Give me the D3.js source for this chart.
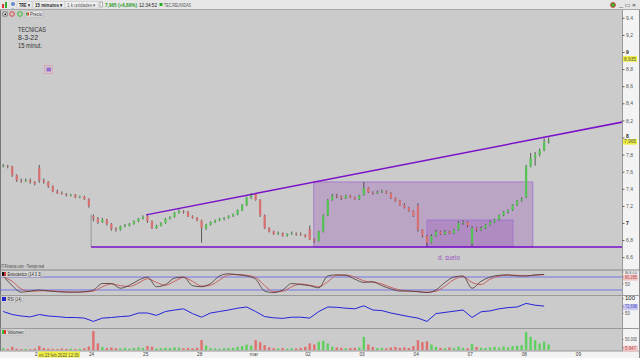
<!DOCTYPE html>
<html><head><meta charset="utf-8">
<script src="https://cdn.jsdelivr.net/npm/d3@7"></script>
<style>body{margin:0;background:#fff;overflow:hidden}svg{display:block;font-family:"Liberation Sans",Arial,sans-serif}</style>
</head><body><svg id="c" width="640" height="358"></svg>
<script>
// ---- DATA (15-min candles, index k: 0 = first bar of 23 feb; 12 bars per session drawn) ----
const firstK = -8;
const opens = [7.66,7.67,7.66,7.56,7.50,7.49,7.50,7.48,
 7.64,7.50,7.48,7.43,7.37,7.35,7.34,7.32,7.33,7.30,7.31,7.28,
 7.08,7.05,7.01,7.04,6.99,6.93,6.92,6.96,6.97,6.99,7.02,7.05,
 7.08,7.02,6.94,6.97,7.00,7.05,7.07,7.12,7.14,7.13,7.08,7.06,
 7.03,6.94,6.98,7.01,7.03,7.05,7.06,7.08,7.10,7.15,7.21,7.30,
 7.34,7.27,7.09,6.94,6.90,6.87,6.88,6.85,6.87,6.88,6.87,6.86,
 6.93,6.81,6.79,6.90,7.09,7.27,7.32,7.31,7.29,7.32,7.30,7.28,
 7.33,7.41,7.36,7.35,7.36,7.37,7.35,7.29,7.26,7.21,7.18,7.14,
 7.20,6.92,6.85,6.77,6.85,6.90,6.87,6.90,6.88,6.92,7.00,7.01,
 6.76,6.94,6.92,6.94,6.98,7.01,7.04,7.09,7.13,7.15,7.21,7.26,
 7.30,7.66,7.76,7.80,7.85,7.95];
const highs = [7.69,7.68,7.67,7.57,7.52,7.52,7.52,7.49,
 7.68,7.52,7.49,7.44,7.39,7.37,7.35,7.34,7.34,7.32,7.32,7.29,
 7.10,7.07,7.06,7.05,7.00,6.95,6.97,6.99,7.00,7.03,7.06,7.09,
 7.10,7.03,6.98,7.01,7.06,7.08,7.13,7.16,7.15,7.14,7.09,7.07,
 7.04,6.99,7.02,7.04,7.06,7.07,7.09,7.11,7.16,7.22,7.31,7.35,
 7.35,7.28,7.10,6.95,6.91,6.90,6.89,6.88,6.90,6.89,6.89,6.87,
 6.97,6.82,6.91,7.10,7.28,7.34,7.34,7.32,7.33,7.33,7.31,7.33,
 7.48,7.42,7.37,7.38,7.39,7.38,7.36,7.30,7.27,7.23,7.19,7.15,
 7.23,6.93,6.86,6.87,6.92,6.91,6.92,6.91,6.93,7.02,7.03,7.02,
 6.96,6.95,6.96,6.99,7.03,7.05,7.10,7.14,7.16,7.22,7.27,7.30,
 7.68,7.82,7.83,7.87,7.99,8.00];
const lows = [7.65,7.64,7.54,7.48,7.47,7.48,7.46,7.44,
 7.47,7.46,7.41,7.36,7.34,7.33,7.31,7.31,7.29,7.29,7.27,7.18,
 7.02,6.99,7.00,6.97,6.91,6.90,6.91,6.95,6.96,6.98,7.01,7.04,
 7.00,6.93,6.93,6.96,6.99,7.04,7.06,7.11,7.11,7.07,7.05,7.02,
 6.77,6.92,6.97,7.00,7.02,7.03,7.05,7.07,7.09,7.14,7.20,7.28,
 7.26,7.07,6.93,6.89,6.86,6.86,6.84,6.84,6.86,6.85,6.85,6.83,
 6.80,6.77,6.78,6.89,7.08,7.26,7.29,7.27,7.28,7.29,7.27,7.27,
 7.32,7.35,7.33,7.34,7.35,7.34,7.28,7.25,7.20,7.17,7.13,7.07,
 6.90,6.83,6.72,6.76,6.84,6.86,6.86,6.87,6.87,6.91,6.98,6.95,
 6.72,6.90,6.91,6.93,6.97,7.00,7.03,7.08,7.11,7.14,7.20,7.25,
 7.29,7.65,7.67,7.78,7.84,7.93];
const closes = [7.67,7.66,7.56,7.50,7.49,7.50,7.48,7.46,
 7.50,7.48,7.43,7.37,7.35,7.34,7.33,7.33,7.30,7.31,7.28,7.20,
 7.05,7.01,7.04,6.99,6.93,6.92,6.96,6.97,6.99,7.02,7.05,7.07,
 7.02,6.94,6.97,7.00,7.05,7.07,7.12,7.14,7.13,7.08,7.06,7.03,
 6.94,6.98,7.01,7.03,7.05,7.06,7.08,7.10,7.15,7.21,7.30,7.34,
 7.27,7.09,6.94,6.90,6.87,6.88,6.85,6.87,6.88,6.87,6.86,6.84,
 6.81,6.79,6.90,7.09,7.27,7.32,7.31,7.29,7.32,7.30,7.28,7.32,
 7.41,7.36,7.35,7.36,7.37,7.35,7.29,7.26,7.21,7.18,7.14,7.08,
 6.92,6.85,6.77,6.85,6.90,6.87,6.90,6.88,6.92,7.00,7.01,6.97,
 6.94,6.92,6.94,6.98,7.01,7.04,7.09,7.13,7.15,7.21,7.26,7.28,
 7.66,7.76,7.80,7.85,7.95,7.965];
const volumesK = [8,5,14,6,4,5,3,6,
 18,9,6,5,4,7,5,6,4,5,8,16,
 86,30,14,9,12,8,7,10,6,9,12,10,
 18,15,7,8,10,9,12,11,8,9,7,10,
 45,20,8,7,6,8,9,10,14,18,25,20,
 45,35,22,12,8,7,9,6,8,7,10,14,
 30,25,38,42,30,15,12,10,8,9,10,12,
 60,25,14,9,10,8,12,14,10,12,9,18,
 45,36,40,25,14,10,8,12,9,15,10,8,
 28,14,10,9,12,14,11,16,12,18,20,22,
 82,60,45,30,38,25];
// indicators sampled every 2 bars starting at k = -8
const indStep = 2;
const stochK = [85,40,10,15,20,15,12,10,10,12, 20,50,50,28,42,65,80,35,45,75,
 80,40,35,50,85,95,90,85,70,15, 8,20,50,45,40,30,85,90,88,70,
 55,58,40,25,15,15,12,8,20,55, 80,85,28,60,80,88,90,85,85,90, 92];
const stochD = [80,60,25,14,16,17,14,11,10,11, 15,35,48,40,36,52,72,55,42,60,
 78,60,38,42,66,90,92,88,78,40, 12,14,35,48,42,35,58,88,89,80,
 62,56,48,32,20,15,13,10,14,38, 68,82,55,45,70,84,89,88,85,88, 91];
const rsi = [55,45,40,37,45,40,38,35,35,33, 22,33,35,38,40,50,50,42,55,60,
 64,48,36,50,55,60,66,70,55,38, 34,32,36,36,33,55,70,69,66,64,
 74,60,58,50,44,38,33,22,48,52, 56,60,35,54,57,64,68,70,82,76, 73];
const dayLabels = ["23","24","25","28","mar","02","03","04","07","08","09"];
const dayStartK = [0,12,24,36,48,60,72,84,96,108,120];
const priceTicks = [6.6,6.8,7,7.2,7.4,7.6,7.8,8,8.2,8.4,8.6,8.8,9,9.2,9.4];
const trendUpper = [{k:24.2,p:7.095},{k:129.8,p:8.18}];
const trendLower = [{k:12,p:6.72},{k:129.8,p:6.72}];
const gapLine = [{k:12,p:7.10},{k:12,p:6.72}];
const boxes = [{k0:61.4,k1:110,p0:6.72,p1:7.48},{k0:86.5,k1:105.6,p0:6.72,p1:7.035}];
const lastPrice = 7.965, markPrice = 8.935;

// ---- SCALES ----
const svg = d3.select("#c");
const PW = 622;
const x = d3.scaleLinear().domain([-8.21,129.77]).range([0,PW]);
const y = d3.scaleLinear().domain([6.6,9.4]).range([257.2,17.8]);
const yS = d3.scaleLinear().domain([0,100]).range([294.3,272.7]);
const yR = d3.scaleLinear().domain([0,100]).range([328,298]);
const yV = d3.scaleLinear().domain([0,50]).range([350,339]);
const comma = v => String(v).replace(".",",");

// backgrounds
svg.append("rect").attr("width",640).attr("height",358).attr("fill","#cbcbcb");
svg.append("rect").attr("x",PW).attr("y",10).attr("width",18).attr("height",348).attr("fill","#f3f3f3");
svg.append("rect").attr("x",0).attr("y",351).attr("width",640).attr("height",7).attr("fill","#f3f3f3");
svg.append("line").attr("x1",PW+0.5).attr("x2",PW+0.5).attr("y1",10).attr("y2",351).attr("stroke","#999");
svg.append("line").attr("x1",0.5).attr("x2",0.5).attr("y1",10).attr("y2",351).attr("stroke","#777");
svg.append("line").attr("x1",639.5).attr("x2",639.5).attr("y1",0).attr("y2",358).attr("stroke","#888");
[[270,"#888"],[295.5,"#999"],[328.5,"#999"],[351,"#999"]].forEach(([yy,c])=>{
  svg.append("line").attr("x1",0).attr("x2",640).attr("y1",yy).attr("y2",yy).attr("stroke",c).attr("stroke-width",1);
});

// toolbar
const tb = svg.append("g");
tb.append("rect").attr("width",640).attr("height",9.5).attr("fill","#e6e6e6");
tb.append("line").attr("x1",0).attr("x2",640).attr("y1",9.5).attr("y2",9.5).attr("stroke","#a8a8a8");
tb.append("rect").attr("x",2).attr("y",4).attr("width",2).attr("height",4).attr("fill","#d33");
tb.append("rect").attr("x",5).attr("y",2).attr("width",2).attr("height",6).attr("fill","#3a3");
tb.append("circle").attr("cx",13).attr("cy",4).attr("r",2).attr("fill","#68c");
tb.append("text").attr("x",11).attr("y",9).attr("font-size",4).attr("fill","#36a").text("⌄");
const tt = (xx,yy,s,txt,opt={})=>{const t=tb.append("text").attr("x",xx).attr("y",yy).attr("font-size",s).attr("fill",opt.fill||"#222").attr("font-weight",opt.w||"normal").text(txt); if(opt.len) t.attr("textLength",opt.len).attr("lengthAdjust","spacingAndGlyphs"); return t;};
[[17,15],[33,32],[65,33]].forEach(([a,w])=>tb.append("rect").attr("x",a).attr("y",1.5).attr("width",w).attr("height",6.5).attr("fill","#efefef").attr("stroke","#bbb").attr("stroke-width",0.5));
tt(19,6.6,5,"TRE  ▾",{w:"bold",len:11});
tt(35,6.6,5,"15 minutos  ▾",{w:"bold",len:28});
tt(67,6.6,5,"1 k unidades  ▾",{fill:"#555",len:29});
tb.append("rect").attr("x",100).attr("y",2).attr("width",2.5).attr("height",5).attr("fill","#fff").attr("stroke","#666").attr("stroke-width",0.5);
tt(105,6.6,5,"7,965 (+6,89%)",{fill:"#2a9a2a",w:"bold",len:32});
tt(139,6.6,5,"12:34:52",{len:18});
tb.append("rect").attr("x",159.5).attr("y",3).attr("width",3).attr("height",3).attr("fill","#2a2");
tt(164,6.6,4.6,"TEC.REUNIDAS",{fill:"#555",len:27});
tb.append("circle").attr("cx",613).attr("cy",5).attr("r",2.4).attr("fill","#3b3").attr("stroke","#d33").attr("stroke-width",1);
tt(619,7,5,"_ □ ×",{fill:"#444",len:17});
tb.append("rect").attr("x",3).attr("y",12).attr("width",4).attr("height",4).attr("fill","#fff").attr("stroke","#333").attr("stroke-width",0.6);
tb.append("rect").attr("x",4.5).attr("y",13.5).attr("width",1.5).attr("height",1.5).attr("fill","#000");
tb.append("circle").attr("cx",12).attr("cy",14).attr("r",2.3).attr("fill","none").attr("stroke","#d44").attr("stroke-width",1);
tb.append("circle").attr("cx",20).attr("cy",14).attr("r",2.3).attr("fill","none").attr("stroke","#3b3").attr("stroke-width",1);
tb.append("rect").attr("x",25).attr("y",11).attr("width",18).attr("height",6).attr("fill","#e8e8e8").attr("stroke","#aaa").attr("stroke-width",0.5);
tb.append("rect").attr("x",26).attr("y",12.5).attr("width",1.5).attr("height",3).attr("fill","#3a3");
tb.append("rect").attr("x",27.5).attr("y",12.5).attr("width",1.5).attr("height",3).attr("fill","#d33");
tt(30,16,4.5,"Precio",{fill:"#333",len:12});

// main plot clip
svg.append("clipPath").attr("id","mc").append("rect").attr("x",0).attr("y",18).attr("width",PW).attr("height",252);
const main = svg.append("g").attr("clip-path","url(#mc)");

main.selectAll("rect.box").data(boxes).join("rect").attr("class","box")
  .attr("x",d=>x(d.k0)).attr("y",d=>y(d.p1)).attr("width",d=>x(d.k1)-x(d.k0)).attr("height",d=>y(d.p0)-y(d.p1))
  .attr("fill","rgba(150,80,185,0.3)").attr("stroke","#a070cc").attr("stroke-width",0.8);

// candles
const candles = closes.map((c,i)=>({k:firstK+i,o:opens[i],h:highs[i],l:lows[i],c:c,v:volumesK[i]}));
const cg = main.append("g");
cg.selectAll("line.w").data(candles).join("line").attr("class","w")
  .attr("x1",d=>x(d.k+0.5)).attr("x2",d=>x(d.k+0.5)).attr("y1",d=>y(d.h)).attr("y2",d=>y(d.l))
  .attr("stroke","#2a2a2a").attr("stroke-width",0.7);
cg.selectAll("rect.b").data(candles).join("rect").attr("class","b")
  .attr("x",d=>x(d.k+0.5)-1.1).attr("width",2.2)
  .attr("y",d=>y(Math.max(d.o,d.c))).attr("height",d=>Math.max(0.8,Math.abs(y(d.o)-y(d.c))))
  .attr("fill",d=>d.c>=d.o?"#55c255":"#d97070");

const lineP = d3.line().x(d=>x(d.k)).y(d=>y(d.p));
main.append("path").attr("d",lineP(gapLine)).attr("stroke","#8a8a8a").attr("stroke-width",0.8).attr("fill","none");
main.append("path").attr("d",lineP(trendLower)).attr("stroke","#7a10c8").attr("stroke-width",1.5).attr("fill","none");
main.append("path").attr("d",lineP(trendUpper)).attr("stroke","#7a10c8").attr("stroke-width",1.5).attr("fill","none");

const ann = (xx,yy,s,txt,len,fill)=>svg.append("text").attr("x",xx).attr("y",yy).attr("font-size",s).attr("fill",fill||"#333").attr("textLength",len).attr("lengthAdjust","spacingAndGlyphs").text(txt);
ann(18,32,7,"TECNICAS",28);
ann(18,40,7,"8-3-22",20);
ann(18,48,7,"15 minut.",24);
svg.append("rect").attr("x",44.5).attr("y",65.5).attr("width",8).attr("height",8).attr("fill","none").attr("stroke","#e0a0b0").attr("stroke-width",0.8);
svg.append("rect").attr("x",46.5).attr("y",67.5).attr("width",4.5).attr("height",4).attr("fill","#9a6ad0");
ann(438,260,7,"d. suelo",22,"#9b55c4");
ann(1,268,5,"IT-Finance.com - Tiempo real",43,"#444");

// price axis
const pax = svg.append("g").attr("transform",`translate(${PW},0)`)
  .call(d3.axisRight(y).tickValues(priceTicks).tickSize(2.5).tickPadding(1.5).tickFormat(v=>comma(+v.toFixed(1))));
pax.select(".domain").remove();
pax.selectAll("line").attr("stroke","#666");
pax.selectAll("text").attr("font-size",5).attr("font-family","Liberation Sans, Arial")
  .attr("dy",d=>d===8?"0.05em":"0.32em")
  .attr("font-weight",d=>Number.isInteger(d)?"bold":"normal").attr("fill",d=>Number.isInteger(d)?"#222":"#555");
const tag = (val,txt,bg,fg)=>{const yy=y(val)+1.2;
  svg.append("rect").attr("x",PW+1).attr("y",yy-2.7).attr("width",14).attr("height",5.6).attr("fill",bg);
  svg.append("text").attr("x",PW+2).attr("y",yy+1.8).attr("font-size",4.8).attr("fill",fg).attr("textLength",12).attr("lengthAdjust","spacingAndGlyphs").text(txt);};
tag(markPrice,"8,935","#f0f040","#555");
tag(lastPrice,"7,965","#f0f040","#555");

// stochastic
const xi = i=>x(firstK+i*indStep+0.5);
const sg = svg.append("g");
[80,20].forEach(v=>sg.append("line").attr("x1",0).attr("x2",PW).attr("y1",yS(v)).attr("y2",yS(v)).attr("stroke","#6a6ae6").attr("stroke-width",0.9));
sg.append("path").attr("d",d3.line().x((d,i)=>xi(i)).y(d=>yS(d)).curve(d3.curveMonotoneX)(stochD)).attr("fill","none").attr("stroke","#c86060").attr("stroke-width",1);
sg.append("path").attr("d",d3.line().x((d,i)=>xi(i)).y(d=>yS(d)).curve(d3.curveMonotoneX)(stochK)).attr("fill","none").attr("stroke","#4a3535").attr("stroke-width",0.8);
const lbl = (yy,txt,len,c1,c2)=>{
  svg.append("rect").attr("x",1).attr("y",yy-4.5).attr("width",len+8).attr("height",6).attr("fill","#dcdcdc").attr("stroke","#aaa").attr("stroke-width",0.4);
  svg.append("rect").attr("x",2).attr("y",yy-3.5).attr("width",2).attr("height",4).attr("fill",c1);
  svg.append("rect").attr("x",4).attr("y",yy-3.5).attr("width",2).attr("height",4).attr("fill",c2);
  svg.append("text").attr("x",7.5).attr("y",yy).attr("font-size",4.6).attr("fill","#222").attr("textLength",len).attr("lengthAdjust","spacingAndGlyphs").text(txt);};
lbl(275.5,"Estocástico (14 3 3)",34,"#111","#c33");
svg.append("path").attr("d",d3.line().x((d,i)=>xi(i)).y(d=>yR(d))(rsi)).attr("fill","none").attr("stroke","#2424dd").attr("stroke-width",1);
lbl(300.5,"RSI (14)",14,"#22c","#22c");
svg.append("g").selectAll("rect").data(candles).join("rect")
  .attr("x",d=>x(d.k+0.5)-1.2).attr("width",2.4).attr("y",d=>yV(d.v)).attr("height",d=>yV(0)-yV(d.v))
  .attr("fill",d=>d.c>=d.o?"#5fcf5f":"#e07070");
lbl(333.5,"Volumen",16,"#3b3","#d33");

const ax = (yy,txt,opt={})=>{
  if(opt.bg) svg.append("rect").attr("x",PW+1).attr("y",yy-3.8).attr("width",15).attr("height",6).attr("fill",opt.bg);
  svg.append("line").attr("x1",PW).attr("x2",PW+2).attr("y1",yy-1.5).attr("y2",yy-1.5).attr("stroke","#777").attr("stroke-width",0.5);
  const t=svg.append("text").attr("x",PW+3).attr("y",yy).attr("font-size",opt.s||4.5).attr("fill",opt.fill||"#555").attr("font-weight",opt.w||"normal").text(txt);
  if(opt.len) t.attr("textLength",opt.len).attr("lengthAdjust","spacingAndGlyphs");};
ax(273.5,"80-8-0-0",{s:3.5,len:12,fill:"#333"});
ax(278.5,"80,285",{bg:"#f0c8c8",fill:"#b44",len:12});
ax(285.5,"50");
ax(300,"100",{s:6,fill:"#222"});
ax(308,"72,698",{bg:"#c8c8f0",fill:"#44b",len:12});
ax(315,"50");
ax(341,"50.000",{len:12});
ax(349.5,"5.647",{bg:"#f0c8c8",fill:"#b44",len:11});

const xa = svg.append("g").attr("transform","translate(0,351)")
  .call(d3.axisBottom(x).tickValues(dayStartK).tickSize(0).tickPadding(2).tickFormat((d,i)=>dayLabels[i]));
xa.select(".domain").remove();
xa.selectAll("text").attr("font-size",4.8).attr("fill","#444");
svg.append("rect").attr("x",38).attr("y",351.5).attr("width",42).attr("height",6).attr("fill","#f0f040");
svg.append("text").attr("x",39).attr("y",356.5).attr("font-size",4.6).attr("fill","#555").attr("textLength",40).attr("lengthAdjust","spacingAndGlyphs").text("mi 23 feb 2022 12:30");
</script></body></html>
